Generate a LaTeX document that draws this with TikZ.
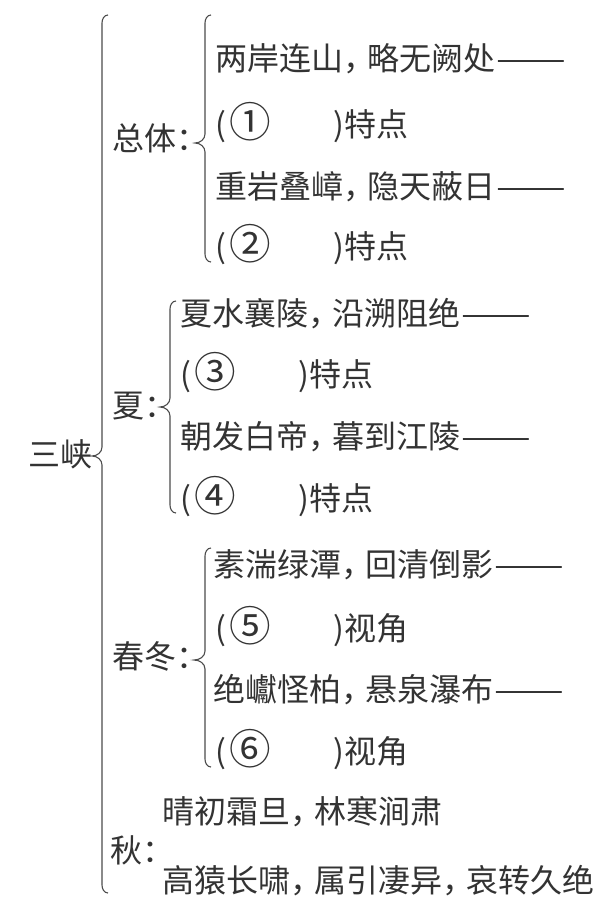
\documentclass[tikz,border=0pt]{standalone}
\usepackage{fontspec}
\usepackage{graphicx}
\setmainfont{Noto Sans CJK SC}
\newcommand{\cc}{，\kern-8pt}
\newcommand{\dsh}{\kern1pt\scalebox{1.3}[1]{——}}
\newcommand{\blk}[1]{\makebox[115pt][l]{(\kern3pt\raisebox{-1.5pt}{\scalebox{1.3}{#1}}}\kern3pt)}
\newcommand{\drawbrace}[5]{% X, top, mid, bottom (pixel y down), tip depth
  \draw[bracestyle] ({#1+6},{-#2}) to[out=180,in=90] (#1,{-#2-8})
    -- (#1,{-#3+9}) to[out=-90,in=0] ({#1-#5},{-#3})
    to[out=0,in=90] (#1,{-#3-9})
    -- (#1,{-#4+8}) to[out=-90,in=180] ({#1+6},{-#4});}
\tikzset{
  txt/.style={anchor=west, inner sep=0pt, text height=26pt, text depth=6pt,
    font=\fontsize{32}{38}\selectfont, text=black!80},
  bracestyle/.style={line width=1.1pt, draw=black!70},
}
\begin{document}
\begin{tikzpicture}[x=1pt,y=1pt]
\fill[white] (0,0) rectangle (600,-910);
\useasboundingbox (0,0) rectangle (600,-910);

% root
\node[txt] (root) at (28,-456) {三峡};
\drawbrace{102}{15}{456}{893}{10}

% 总体
\node[txt] (zt) at (112,-140) {总体：};
\drawbrace{205}{15}{143}{262}{10}
\node[txt] (zt1) at (215,-60) {两岸连山\cc 略无阙处\dsh};
\node[txt] (zt2) at (215,-126) {\blk{①}特点};
\node[txt] (zt3) at (215,-188) {重岩叠嶂\cc 隐天蔽日\dsh};
\node[txt] (zt4) at (215,-248) {\blk{②}特点};

% 夏
\node[txt] (xia) at (112,-407) {夏：};
\drawbrace{170}{301}{407}{513}{10}
\node[txt] (x1) at (180,-315) {夏水襄陵\cc 沿溯阻绝\dsh};
\node[txt] (x2) at (180,-376) {\blk{③}特点};
\node[txt] (x3) at (180,-438) {朝发白帝\cc 暮到江陵\dsh};
\node[txt] (x4) at (180,-500) {\blk{④}特点};

% 春冬
\node[txt] (cd) at (112,-658) {春冬：};
\drawbrace{205}{548}{660}{767}{11}
\node[txt] (c1) at (213,-566) {素湍绿潭\cc 回清倒影\dsh};
\node[txt] (c2) at (215,-630) {\blk{⑤}视角};
\node[txt] (c3) at (213,-691) {绝巘怪柏\cc 悬泉瀑布\dsh};
\node[txt] (c4) at (215,-753) {\blk{⑥}视角};

% 秋
\node[txt] (qiu) at (110,-852) {秋：};
\node[txt] (q1) at (162,-813) {晴初霜旦\cc 林寒涧肃};
\node[txt] (q2) at (162,-882) {高猿长啸\cc 属引凄异\cc 哀转久绝};
\end{tikzpicture}
\end{document}
